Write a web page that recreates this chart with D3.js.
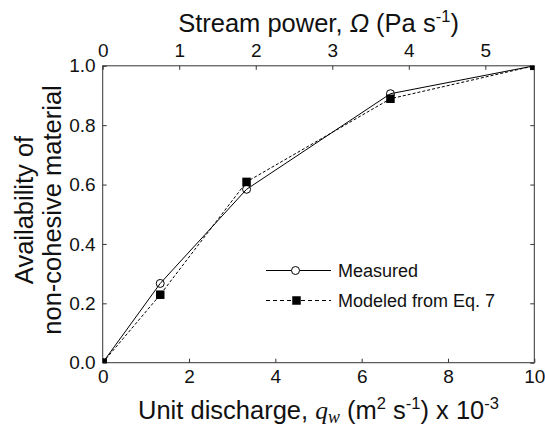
<!DOCTYPE html>
<html>
<head>
<meta charset="utf-8">
<script src="https://cdn.jsdelivr.net/npm/d3@7"></script>
<style>
  html, body { margin: 0; padding: 0; background: #fff; }
  svg { display: block; }
  text { font-family: Arial, "Liberation Sans", Helvetica, sans-serif; fill: #111; }
</style>
</head>
<body>
<svg id="chart" width="545" height="430"></svg>
<script>
// ---- data ----
const qw = [0, 1.333, 3.333, 6.667, 10];          // unit discharge (x 10^-3 m2 s-1)
const measured = [0, 0.267, 0.584, 0.906, 1.0];
const modeled  = [0, 0.229, 0.609, 0.889, 1.0];
const xTicks = [0, 2, 4, 6, 8, 10];
const yTicks = [0, 0.2, 0.4, 0.6, 0.8, 1.0];
const omegaTicks = [0, 1, 2, 3, 4, 5];
const omegaMax = 5.64;                               // stream power at qw = 10
const seriesNames = ["Measured", "Modeled from Eq. 7"];

// ---- layout ----
const svg = d3.select("#chart");
const L = 102.7, R = 534.3, T = 65.8, B = 362.7;
const x = d3.scaleLinear().domain([0, 10]).range([L, R]);
const xTop = d3.scaleLinear().domain([0, omegaMax]).range([L, R]);
const y = d3.scaleLinear().domain([0, 1]).range([B, T]);
const axisColor = "#333";
const tickFont = 19;

// clip
svg.append("defs").append("clipPath").attr("id", "plotclip")
  .append("rect").attr("x", L).attr("y", T).attr("width", R - L).attr("height", B - T);

function styleAxis(g) {
  g.select(".domain").remove();
  g.selectAll(".tick line").attr("stroke", axisColor).attr("stroke-width", 1);
  g.selectAll(".tick text").attr("font-size", tickFont).attr("fill", "#111")
    .attr("font-family", "Arial, 'Liberation Sans', sans-serif");
}

svg.append("g").attr("transform", `translate(0,${B})`)
  .call(d3.axisBottom(x).tickValues(xTicks).tickSizeInner(-4).tickSizeOuter(0).tickPadding(7).tickFormat(d3.format("d")))
  .call(styleAxis);

svg.append("g").attr("transform", `translate(0,${T})`)
  .call(d3.axisTop(xTop).tickValues(omegaTicks).tickSizeInner(-4).tickSizeOuter(0).tickPadding(9).tickFormat(d3.format("d")))
  .call(styleAxis);

svg.append("g").attr("transform", `translate(${L},0)`)
  .call(d3.axisLeft(y).tickValues(yTicks).tickSizeInner(-4).tickSizeOuter(0).tickPadding(7).tickFormat(d3.format(".1f")))
  .call(styleAxis);

svg.append("g").attr("transform", `translate(${R},0)`)
  .call(d3.axisRight(y).tickValues(yTicks).tickSizeInner(-4).tickSizeOuter(0).tickFormat(""))
  .call(styleAxis);

// box
svg.append("rect").attr("x", L).attr("y", T).attr("width", R - L).attr("height", B - T)
  .attr("fill", "none").attr("stroke", axisColor).attr("stroke-width", 1);

// lines
const plot = svg.append("g").attr("clip-path", "url(#plotclip)");
const lineGen = d3.line().x(d => x(d[0])).y(d => y(d[1]));
const mData = qw.map((q, i) => [q, measured[i]]);
const pData = qw.map((q, i) => [q, modeled[i]]);

plot.append("path").datum(pData).attr("d", lineGen)
  .attr("fill", "none").attr("stroke", "#000").attr("stroke-width", 1).attr("stroke-dasharray", "3,2");
plot.append("path").datum(mData).attr("d", lineGen)
  .attr("fill", "none").attr("stroke", "#000").attr("stroke-width", 1);

const sq = 8.5;
plot.selectAll("rect.mod").data(pData).enter().append("rect")
  .attr("x", d => x(d[0]) - sq / 2).attr("y", d => y(d[1]) - sq / 2)
  .attr("width", sq).attr("height", sq).attr("fill", "#000");
plot.selectAll("circle.meas").data(mData).enter().append("circle")
  .attr("cx", d => x(d[0])).attr("cy", d => y(d[1])).attr("r", 4)
  .attr("fill", "none").attr("stroke", "#000").attr("stroke-width", 1);

// legend
const lg = svg.append("g");
const lx0 = 266, lx1 = 331, ly1 = 270.5, ly2 = 300.5;
lg.append("line").attr("x1", lx0).attr("x2", lx1).attr("y1", ly1).attr("y2", ly1)
  .attr("stroke", "#000").attr("stroke-width", 1);
lg.append("circle").attr("cx", (lx0 + lx1) / 2 - 3).attr("cy", ly1).attr("r", 4)
  .attr("fill", "#fff").attr("stroke", "#000").attr("stroke-width", 1);
lg.append("line").attr("x1", lx0).attr("x2", lx1).attr("y1", ly2).attr("y2", ly2)
  .attr("stroke", "#000").attr("stroke-width", 1).attr("stroke-dasharray", "4,3");
lg.append("rect").attr("x", (lx0 + lx1) / 2 - 2 - sq / 2).attr("y", ly2 - sq / 2)
  .attr("width", sq).attr("height", sq).attr("fill", "#000");
lg.append("text").attr("x", 338).attr("y", ly1).attr("dy", "0.35em").attr("font-size", 18).text(seriesNames[0]);
lg.append("text").attr("x", 338).attr("y", ly2).attr("dy", "0.35em").attr("font-size", 18).text(seriesNames[1]);

// axis titles
const titleSize = 25.5;
const supSize = titleSize * 0.65;
const xt = svg.append("text").attr("x", (L + R) / 2).attr("y", 419).attr("text-anchor", "middle")
  .attr("font-size", titleSize);
xt.append("tspan").text("Unit discharge, ");
xt.append("tspan").attr("font-family", "'Liberation Serif', 'Times New Roman', serif").attr("font-style", "italic").text("q");
xt.append("tspan").attr("font-family", "'Liberation Serif', 'Times New Roman', serif").attr("font-style", "italic")
  .attr("font-size", titleSize * 0.7).attr("dy", 4).text("w");
xt.append("tspan").attr("dy", -4).text(" (m");
xt.append("tspan").attr("font-size", supSize).attr("dy", -10).text("2");
xt.append("tspan").attr("dy", 10).text(" s");
xt.append("tspan").attr("font-size", supSize).attr("dy", -10).text("-1");
xt.append("tspan").attr("dy", 10).text(") x 10");
xt.append("tspan").attr("font-size", supSize).attr("dy", -10).text("-3");

const tt = svg.append("text").attr("x", (L + R) / 2).attr("y", 32).attr("text-anchor", "middle")
  .attr("font-size", titleSize);
tt.append("tspan").text("Stream power, ");
tt.append("tspan").attr("font-style", "italic").text("Ω");
tt.append("tspan").text(" (Pa s");
tt.append("tspan").attr("font-size", supSize).attr("dy", -10).text("-1");
tt.append("tspan").attr("dy", 10).text(")");

const yt = svg.append("text").attr("transform", "translate(33,210) rotate(-90)").attr("text-anchor", "middle")
  .attr("font-size", titleSize);
yt.append("tspan").attr("x", 0).attr("y", 0).text("Availability of");
yt.append("tspan").attr("x", 0).attr("y", 28).text("non-cohesive material");
</script>
</body>
</html>
